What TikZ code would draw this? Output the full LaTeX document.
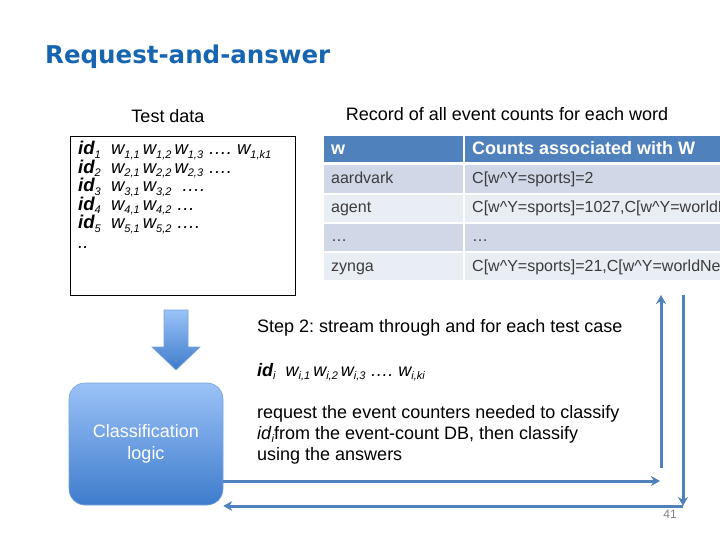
\documentclass[tikz,border=0pt]{standalone}
\usepackage{fontspec}
\setmainfont{Liberation Sans}
\newfontfamily\titlefont{DejaVu Sans}
\usetikzlibrary{arrows.meta}
\definecolor{hdr}{RGB}{79,129,189}
\definecolor{bandA}{RGB}{208,216,232}
\definecolor{bandB}{RGB}{233,237,244}
\definecolor{ttl}{RGB}{23,101,176}
\definecolor{cellt}{RGB}{60,60,60}
\definecolor{shTop}{RGB}{155,194,248}
\definecolor{shBot}{RGB}{62,124,204}
\newcommand\sbx[1]{\raisebox{-0.35ex}{\fontsize{11}{11}\selectfont #1}}
\newcommand\fsz[1]{\fontsize{#1}{#1}\selectfont}
\frenchspacing
\begin{document}
\begin{tikzpicture}[x=1pt,y=-1pt,
  txt/.style={inner sep=0pt, anchor=base west, font=\fsz{18}},
  cell/.style={inner sep=0pt, anchor=base west, font=\fsz{16}, text=cellt},
  hcell/.style={inner sep=0pt, anchor=base west, font=\fsz{18}\bfseries, text=white},
  flow/.style={line width=3pt, draw=hdr, -{Stealth[length=9pt,width=10pt]}},
]
\useasboundingbox (0,0) rectangle (720,540);

% title
\node[anchor=base west, inner sep=0pt, font=\titlefont\bfseries\fsz{24.5}, text=ttl] (title) at (45,64) {Request-and-answer};

% test data
\node[txt, anchor=base] (tdlab) at (168,123) {Test data};
\node[draw, line width=1.2pt, minimum width=225pt, minimum height=159pt, anchor=north west, inner sep=0pt] (td) at (70,136) {};
\begin{scope}[every node/.style={txt, font=\fsz{18.5}\itshape}]
\node (l1) at (78,155) {\textbf{id}\sbx{1}\ \ w\sbx{1,1}\,w\sbx{1,2}\,w\sbx{1,3} …. w\sbx{1,k1}};
\node (l2) at (78,173.5) {\textbf{id}\sbx{2}\ \ w\sbx{2,1}\,w\sbx{2,2}\,w\sbx{2,3} ….};
\node (l3) at (78,192) {\textbf{id}\sbx{3}\ \ w\sbx{3,1}\,w\sbx{3,2}\ \ ….};
\node (l4) at (78,210.5) {\textbf{id}\sbx{4}\ \ w\sbx{4,1}\,w\sbx{4,2} …};
\node (l5) at (78,229) {\textbf{id}\sbx{5}\ \ w\sbx{5,1}\,w\sbx{5,2} ….};
\node (l6) at (78,248) {..};
\end{scope}

% table
\node[txt, anchor=base] (reclab) at (507,121) {Record of all event counts for each word};
\begin{scope}
\clip (0,0) rectangle (720,540);
\fill[hdr] (324,136) rectangle (463,162);
\fill[hdr] (465,136) rectangle (730,162);
\fill[bandA] (324,165) rectangle (463,193);
\fill[bandA] (465,165) rectangle (730,193);
\fill[bandB] (324,195.5) rectangle (463,222);
\fill[bandB] (465,195.5) rectangle (730,222);
\fill[bandA] (324,224) rectangle (463,250.5);
\fill[bandA] (465,224) rectangle (730,250.5);
\fill[bandB] (324,253) rectangle (463,280);
\fill[bandB] (465,253) rectangle (730,280);
\node[hcell] (h1) at (331,155) {w};
\node[hcell] (h2) at (472,155) {Counts associated with W};
\node[cell] (r1a) at (331,184) {aardvark};
\node[cell] (r1b) at (472,184) {C[w\^{}Y=sports]=2};
\node[cell] (r2a) at (331,213) {agent};
\node[cell] (r2b) at (472,213) {C[w\^{}Y=sports]=1027,C[w\^{}Y=worldNews]=564};
\node[cell] (r3a) at (331,241) {…};
\node[cell] (r3b) at (472,241) {…};
\node[cell] (r4a) at (331,271) {zynga};
\node[cell] (r4b) at (472,271) {C[w\^{}Y=sports]=21,C[w\^{}Y=worldNews]=4464};
\end{scope}

% block arrow
\path[top color=shTop, bottom color=shBot, draw=shBot!70!white, line width=0.6pt]
  (164,310) -- (188,310) -- (188,347) -- (200,347) -- (176,370) -- (152,347) -- (164,347) -- cycle;

% classification box
\node[rounded corners=16pt, minimum width=154pt, minimum height=122pt, top color=shTop, bottom color=shBot,
  draw=shBot!70!white, line width=0.6pt, text=white, align=center, font=\fontsize{18}{22}\selectfont] (cls) at (146,444) {Classification\\logic};

% right text
\node[txt] (s2) at (257,332) {Step 2: stream through and for each test case};
\node[txt, font=\fsz{18}\itshape] (idi) at (257,376) {\textbf{id}\sbx{i}\ \ w\sbx{i,1}\,w\sbx{i,2}\,w\sbx{i,3} …. w\sbx{i,ki}};
\node[txt] (req1) at (257,418) {request the event counters needed to classify};
\node[txt] (req2) at (257,439) {\textit{id}\sbx{\itshape i}from the event-count DB, then classify};
\node[txt] (req3) at (257,460) {using the answers};

% connectors
\coordinate (a1) at (660,481);
\coordinate (u0) at (661,468);
\coordinate (u1) at (661,295);
\coordinate (d0) at (683,295);
\coordinate (d1) at (683,506);
\draw[flow] (cls.east |- a1) -- (a1);
\draw[flow] (u0) -- (u1);
\draw[flow] (d0) -- (d1);
\draw[flow] (d1) -- (cls.east |- d1);

% page number
\node[font=\fsz{12}, text=gray, inner sep=0pt] (pg) at (670,514) {41};
\end{tikzpicture}
\end{document}
